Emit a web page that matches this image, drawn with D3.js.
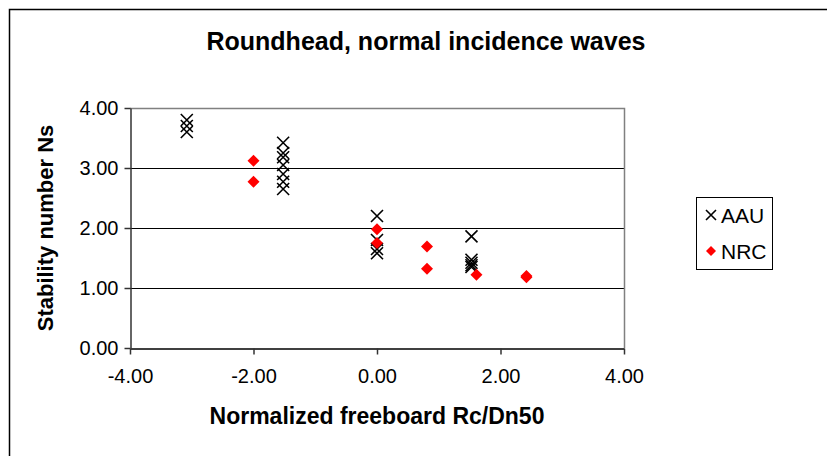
<!DOCTYPE html>
<html>
<head>
<meta charset="utf-8">
<script src="https://cdn.jsdelivr.net/npm/d3@7"></script>
<style>
  body { margin: 0; background: #fff; }
  text { font-family: 'Liberation Sans', Arial, sans-serif; }
</style>
</head>
<body>
<div id="chart"></div>
<script>
// AAU tests (black crosses)
const aauX = [-3.08, -3.08, -3.08,
              -1.52, -1.52, -1.52, -1.52, -1.52, -1.52, -1.52,
              0, 0, 0, 0,
              1.53, 1.53, 1.53, 1.53, 1.53]
const aauY = [3.80, 3.70, 3.60,
              3.42, 3.25, 3.18, 3.05, 2.90, 2.77, 2.65,
              2.20, 1.80, 1.65, 1.58,
              1.86, 1.47, 1.42, 1.38, 1.35]

// NRC tests (red diamonds)
const nrcX = [-2.0, -2.0, 0, 0, 0.81, 0.81, 1.61, 2.42, 2.42]
const nrcY = [3.12, 2.77, 1.98, 1.75, 1.69, 1.32, 1.22, 1.20, 1.18]

const xTicks = [-4, -2, 0, 2, 4]
const yTicks = [0, 1, 2, 3, 4]

const width = 827
const height = 456
const margin = { left: 130, right: 203, top: 108, bottom: 108 }

const svg = d3.select('#chart')
    .append('svg')
    .attr('width', width)
    .attr('height', height)

// outer chart border (cut off at right and bottom like the reference)
svg.append('rect')
    .attr('x', 9.5)
    .attr('y', 9.5)
    .attr('width', width)
    .attr('height', height)
    .attr('fill', 'white')
    .attr('stroke', 'black')
    .attr('stroke-width', 1.5)

const x = d3.scaleLinear().domain([-4, 4]).range([margin.left, width - margin.right])
const y = d3.scaleLinear().domain([0, 4]).range([height - margin.bottom, margin.top])

// gridlines
svg.append('g')
    .selectAll('line')
    .data(yTicks.filter(d => d > 0 && d < 4))
    .join('line')
    .attr('x1', x(-4))
    .attr('x2', x(4))
    .attr('y1', d => Math.round(y(d)) + 0.5)
    .attr('y2', d => Math.round(y(d)) + 0.5)
    .attr('stroke', 'black')
    .attr('stroke-width', 1)

// plot area top/right border
svg.append('path')
    .attr('d', `M${x(-4)},${Math.round(y(4)) + 0.5}H${Math.round(x(4)) + 0.5}V${y(0)}`)
    .attr('fill', 'none')
    .attr('stroke', '#808080')
    .attr('stroke-width', 1.5)

const xAxis = svg.append('g')
    .attr('transform', `translate(0,${Math.round(y(0)) + 0.5})`)
    .call(d3.axisBottom(x).tickValues(xTicks).tickSizeInner(6).tickSizeOuter(0).tickPadding(14))
xAxis.select('.domain').attr('stroke', 'black').attr('stroke-width', 1.5)
xAxis.selectAll('.tick line').attr('stroke', '#333').attr('stroke-width', 1.5)
xAxis.selectAll('text')
    .style('font-size', '20px')
    .style('fill', 'black')
    .text(d => d.toFixed(2))

const yAxis = svg.append('g')
    .attr('transform', `translate(${Math.round(x(-4)) + 0.5},0)`)
    .call(d3.axisLeft(y).tickValues(yTicks).tickFormat(d => d.toFixed(2)).tickSizeInner(6).tickSizeOuter(0).tickPadding(6))
yAxis.select('.domain').attr('stroke', '#333').attr('stroke-width', 1.5)
yAxis.selectAll('.tick line').attr('stroke', '#333').attr('stroke-width', 1.5)
yAxis.selectAll('text')
    .style('font-size', '20px')
    .style('fill', 'black')

// AAU crosses
const s = 6
svg.append('g')
    .selectAll('path')
    .data(aauX.map((d, i) => [d, aauY[i]]))
    .join('path')
    .attr('d', d => {
        const cx = x(d[0]), cy = y(d[1])
        return `M${cx - s},${cy - s}L${cx + s},${cy + s}M${cx - s},${cy + s}L${cx + s},${cy - s}`
    })
    .attr('stroke', 'black')
    .attr('stroke-width', 1.6)
    .attr('fill', 'none')

// NRC diamonds
const r = 6
svg.append('g')
    .selectAll('path')
    .data(nrcX.map((d, i) => [d, nrcY[i]]))
    .join('path')
    .attr('d', d => {
        const cx = x(d[0]), cy = y(d[1])
        return `M${cx},${cy - r}L${cx + r},${cy}L${cx},${cy + r}L${cx - r},${cy}Z`
    })
    .attr('fill', '#ff0000')

// titles
svg.append('text')
    .attr('x', 426)
    .attr('y', 50)
    .attr('text-anchor', 'middle')
    .style('font-size', '25px')
    .style('font-weight', 'bold')
    .text('Roundhead, normal incidence waves')

svg.append('text')
    .attr('x', x(0))
    .attr('y', 424)
    .attr('text-anchor', 'middle')
    .style('font-size', '23px')
    .style('font-weight', 'bold')
    .text('Normalized freeboard Rc/Dn50')

svg.append('text')
    .attr('transform', `translate(53,${y(2)}) rotate(-90)`)
    .attr('text-anchor', 'middle')
    .style('font-size', '22px')
    .style('font-weight', 'bold')
    .text('Stability number Ns')

// legend
const legend = svg.append('g')
legend.append('rect')
    .attr('x', 696.5)
    .attr('y', 197.5)
    .attr('width', 76)
    .attr('height', 72)
    .attr('fill', 'white')
    .attr('stroke', 'black')
    .attr('stroke-width', 1)

legend.append('path')
    .attr('d', `M${706},${210}L${716},${220}M${706},${220}L${716},${210}`)
    .attr('stroke', 'black')
    .attr('stroke-width', 1.6)
legend.append('text')
    .attr('x', 721)
    .attr('y', 223)
    .style('font-size', '21px')
    .text('AAU')

legend.append('path')
    .attr('d', `M${711},${246}L${716},${251}L${711},${256}L${706},${251}Z`)
    .attr('fill', '#ff0000')
legend.append('text')
    .attr('x', 721)
    .attr('y', 259)
    .style('font-size', '21px')
    .text('NRC')
</script>
</body>
</html>
